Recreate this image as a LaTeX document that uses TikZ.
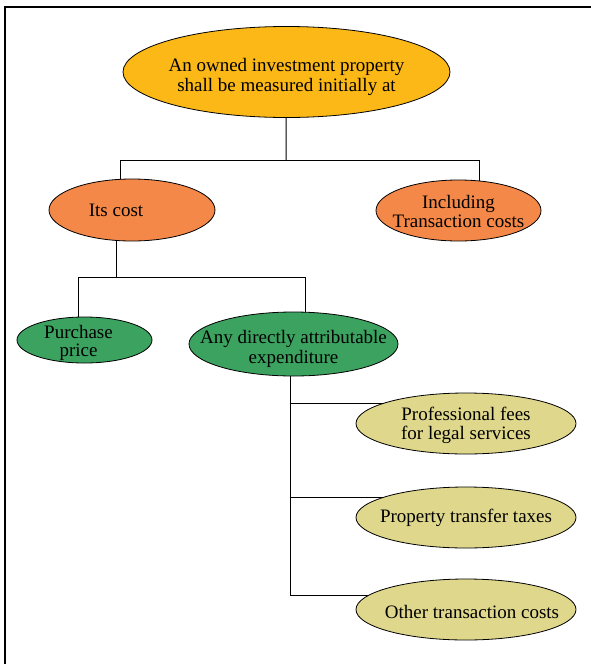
\documentclass[tikz,border=0pt]{standalone}
\usepackage{fontspec}
\setmainfont{Liberation Serif}
\usetikzlibrary{shapes.geometric,backgrounds}
\definecolor{cTop}{RGB}{251,184,23}
\definecolor{cOrange}{RGB}{244,136,72}
\definecolor{cGreen}{RGB}{60,162,96}
\definecolor{cKhaki}{RGB}{223,215,140}
\begin{document}
\begin{tikzpicture}[x=1pt,y=-1pt,
  ell/.style={ellipse,draw=black,line width=0.8pt,inner sep=0pt},
  lbl/.style={font=\fontsize{19}{19.5}\selectfont,align=center,inner sep=0pt},
  conn/.style={draw=black,line width=1pt}]
\useasboundingbox (0,0) rectangle (590,664);
\draw[line width=2pt] (5,666) -- (5,7) -- (592,7);
% nodes
\node[ell,fill=cTop,minimum width=327pt,minimum height=91pt,
  label={[lbl,yshift=-5pt]center:An owned investment property\\shall be measured initially at}] (top) at (286.5,72) {};
\node[ell,fill=cOrange,minimum width=166pt,minimum height=62pt,
  label={[lbl,xshift=-16pt]center:Its cost}] (cost) at (132,210) {};
\node[ell,fill=cOrange,minimum width=165pt,minimum height=61pt,
  label={[lbl,yshift=-1pt]center:Including\\Transaction costs}] (incl) at (458.5,210.5) {};
\node[ell,fill=cGreen,minimum width=135pt,minimum height=46pt,
  label={[lbl,xshift=-6pt,yshift=-3pt,font=\fontsize{19}{18.5}\selectfont]center:Purchase\\price}] (pp) at (84.5,340) {};
\node[ell,fill=cGreen,minimum width=209pt,minimum height=64pt,
  label={[lbl,yshift=-5pt]center:Any directly attributable\\expenditure}] (any) at (293.5,344) {};
\node[ell,fill=cKhaki,minimum width=220pt,minimum height=61pt,
  label={[lbl,yshift=-2pt]center:Professional fees\\for legal services}] (pf) at (466,423.5) {};
\node[ell,fill=cKhaki,minimum width=220pt,minimum height=61pt,
  label={[lbl]center:Property transfer taxes}] (pt) at (466,517.5) {};
\node[ell,fill=cKhaki,minimum width=220pt,minimum height=61pt,
  label={[lbl,xshift=6pt,yshift=-2pt]center:Other transaction costs}] (ot) at (466,609.5) {};
% junctions
\coordinate (jA) at (286,160);
\coordinate (jL) at (120,160);
\coordinate (jR) at (479,160);
\coordinate (kA) at (116,277);
\coordinate (kL) at (78,277);
\coordinate (kR) at (305,277);
\coordinate (m1) at (290,403);
\coordinate (m2) at (290,497);
\coordinate (m3) at (290,595);
\begin{scope}[on background layer]
\draw[conn] (top.center) -- (jA);
\draw[conn] (jL) -- (jR);
\draw[conn] (jL) -- (jL |- cost.center);
\draw[conn] (jR) -- (jR |- incl.center);
\draw[conn] (cost.center -| kA) -- (kA);
\draw[conn] (kL) -- (kR);
\draw[conn] (kL) -- (kL |- pp.center);
\draw[conn] (kR) -- (kR |- any.center);
\draw[conn] (any.center -| m1) -- (m3);
\draw[conn] (m1) -- (m1 -| pf.center);
\draw[conn] (m2) -- (m2 -| pt.center);
\draw[conn] (m3) -- (m3 -| ot.center);
\end{scope}
\end{tikzpicture}
\end{document}
